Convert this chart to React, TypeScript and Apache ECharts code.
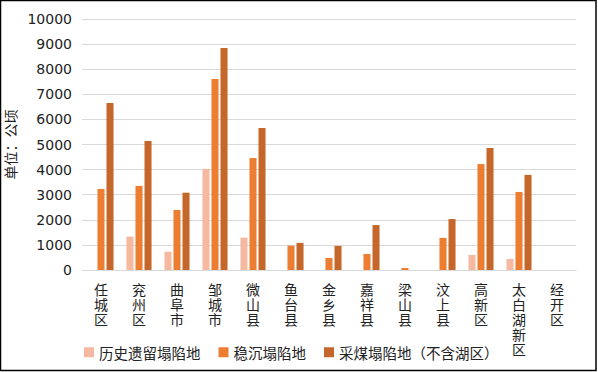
import React, { useEffect, useRef } from "react";
import * as echarts from "echarts";

const categories = ["任城区", "兖州区", "曲阜市", "邹城市", "微山县", "鱼台县", "金乡县", "嘉祥县", "梁山县", "汶上县", "高新区", "太白湖新区", "经开区"];
const historical = [0, 1330, 730, 4030, 1290, 0, 0, 0, 0, 0, 600, 440, 0];
const stable = [3230, 3350, 2390, 7610, 4460, 970, 480, 640, 80, 1280, 4220, 3110, 0];
const mining = [6650, 5140, 3080, 8840, 5660, 1080, 960, 1790, 0, 2030, 4860, 3790, 0];
const seriesNames = ["历史遗留塌陷地", "稳沉塌陷地", "采煤塌陷地（不含湖区）"];
const yTicks = { min: 0, max: 10000, interval: 1000 };

const CJK = "'Noto Sans CJK SC', sans-serif";
const NUM = "'DejaVu Sans', 'Noto Sans CJK SC', sans-serif";

export default function App() {
  const ref = useRef<HTMLDivElement>(null);
  useEffect(() => {
    document.body.style.margin = "0";
    const chart = echarts.init(ref.current!, null, { renderer: "svg" });
    chart.setOption({
      animation: false,
      backgroundColor: "#fff",
      color: ["#F4B9A0", "#ED7D31", "#C5672B"],
      graphic: [
        {
          type: "rect",
          shape: { x: 0.5, y: 0.5, width: 595.5, height: 370 },
          style: { fill: "none", stroke: "#000", lineWidth: 1.5 },
          silent: true,
          z: 100,
        },
      ],
      grid: { left: 82, right: 22, top: 19, bottom: 102, outerBoundsMode: "none", containLabel: false },
      legend: {
        left: 84,
        top: 345,
        padding: 0,
        itemWidth: 10,
        itemHeight: 10,
        itemGap: 18,
        icon: "rect",
        textStyle: { fontFamily: CJK, fontSize: 14.5, color: "#222" },
        data: seriesNames,
      },
      xAxis: {
        type: "category",
        data: categories,
        axisLine: { lineStyle: { color: "#D9D9D9", width: 1 } },
        axisTick: { show: false },
        axisLabel: {
          interval: 0,
          margin: 11,
          fontFamily: CJK,
          fontSize: 14,
          lineHeight: 15,
          color: "#222",
          formatter: (v: string) => v.split("").join("\n"),
        },
      },
      yAxis: {
        type: "value",
        min: yTicks.min,
        max: yTicks.max,
        interval: yTicks.interval,
        name: "单位：公顷",
        nameLocation: "middle",
        nameRotate: 90,
        nameGap: 52,
        nameTextStyle: { fontFamily: CJK, fontSize: 14, color: "#222" },
        axisLine: { show: false },
        axisTick: { show: false },
        splitLine: { lineStyle: { color: "#D9D9D9", width: 1 } },
        axisLabel: {
          fontFamily: NUM,
          fontSize: 14,
          color: "#222",
          margin: 10,
          formatter: (v: number) => String(v),
        },
      },
      series: [
        { name: seriesNames[0], type: "bar", data: historical, barGap: "28%", barCategoryGap: "34%" },
        { name: seriesNames[1], type: "bar", data: stable, barGap: "28%", barCategoryGap: "34%" },
        { name: seriesNames[2], type: "bar", data: mining, barGap: "28%", barCategoryGap: "34%" },
      ],
    });
    return () => chart.dispose();
  }, []);
  return <div ref={ref} style={{ width: 598, height: 372, position: "absolute", left: 0, top: 0 }} />;
}
